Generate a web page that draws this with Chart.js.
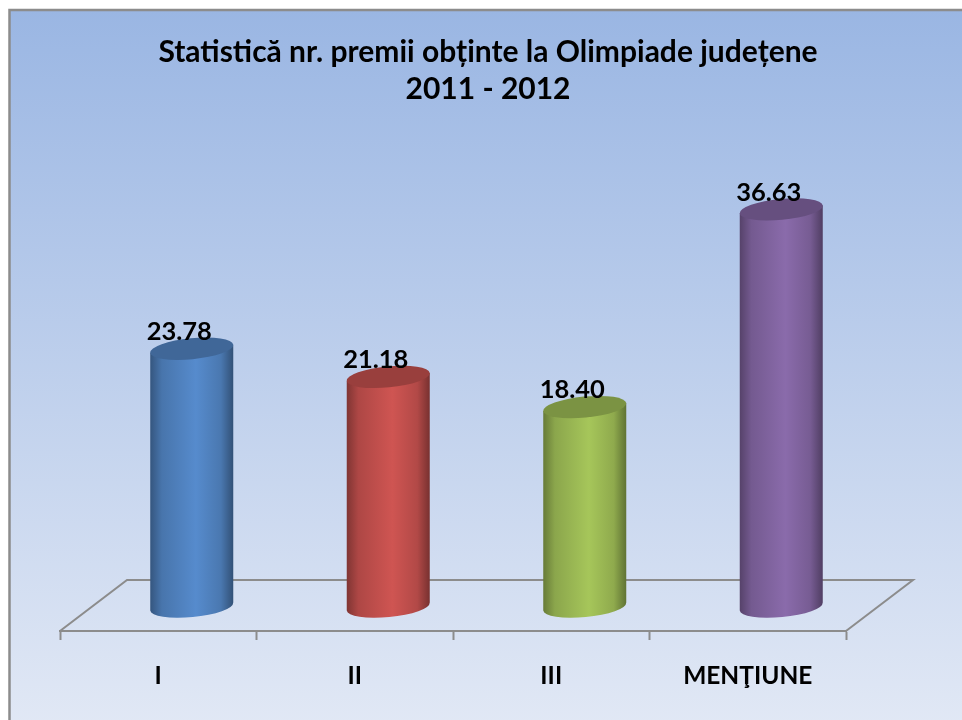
<!DOCTYPE html>
<html>
<head>
<meta charset="utf-8">
<title>Statistică premii</title>
<script src="https://cdn.jsdelivr.net/npm/chart.js@4"></script>
<style>
    html, body { margin: 0; padding: 0; background: #fff; overflow: hidden; }
    #wrap { position: absolute; left: 0; top: 0; width: 976px; height: 740px; }
</style>
</head>
<body>
<div id="wrap"><canvas id="premii" width="976" height="740"></canvas></div>
<script>
var titleLines = ["Statistică nr. premii obținte la Olimpiade județene", "2011 - 2012"];
var categories = ["I", "II", "III", "MENŢIUNE"];
var premii = [23.78, 21.18, 18.40, 36.63];
var barColors = ["#568BCD", "#CF5552", "#A6C65A", "#8A6BAB"];

var depthX = 67, depthY = 51;
var lineGray = "#8C8C8C";

function shade(hex, f) {
    var n = parseInt(hex.slice(1), 16);
    return "rgb(" + Math.round((n >> 16) * f) + "," + Math.round(((n >> 8) & 255) * f) + "," + Math.round((n & 255) * f) + ")";
}

// axa goala, tine doar locul pe margini (titlul ramane centrat pe tot canvas-ul)
function spacerAxis(position, width) {
    return {
        position: position,
        min: -2.25,
        max: 43.95,
        afterFit: function (scale) { scale.width = width; },
        border: { display: false },
        grid: { display: false },
        ticks: { display: false }
    };
}

// fundal + chenar
var panelPlugin = {
    id: "panel",
    beforeDraw: function (chart) {
        var ctx = chart.ctx;
        var grad = ctx.createLinearGradient(0, 9, 0, 725);
        grad.addColorStop(0, "#9AB6E3");
        grad.addColorStop(1, "#E1E8F5");
        ctx.save();
        ctx.fillStyle = grad;
        ctx.fillRect(9, 9, chart.width, chart.height);
        ctx.strokeStyle = lineGray;
        ctx.lineWidth = 2.5;
        ctx.strokeRect(9.5, 10, chart.width, chart.height);
        ctx.restore();
    },
    // podeaua 3D in spatele coloanelor
    beforeDatasetsDraw: function (chart) {
        var ctx = chart.ctx, a = chart.chartArea;
        ctx.save();
        ctx.strokeStyle = lineGray;
        ctx.lineWidth = 2;
        ctx.beginPath();
        ctx.moveTo(a.left, a.bottom);
        ctx.lineTo(a.left + depthX, a.bottom - depthY);
        ctx.lineTo(a.right + depthX, a.bottom - depthY);
        ctx.lineTo(a.right, a.bottom);
        ctx.stroke();
        ctx.restore();
    }
};

// coloanele sunt desenate ca cilindri, din elementele Chart.js
var cylinderPlugin = {
    id: "cylinder",
    beforeDatasetDraw: function (chart, args) {
        var ctx = chart.ctx;
        var rot = -0.096, ry = 10.5;
        args.meta.data.forEach(function (bar, i) {
            var cx = bar.x + depthX / 2;
            var rx = bar.width / 2 / Math.cos(rot);
            var top = bar.y, bottom = bar.base;
            var dy = rx * Math.sin(rot);
            var dx = bar.width / 2;
            var color = barColors[i];

            var grad = ctx.createLinearGradient(cx - dx, 0, cx + dx, 0);
            grad.addColorStop(0, shade(color, 0.62));
            grad.addColorStop(0.14, shade(color, 0.84));
            grad.addColorStop(0.55, shade(color, 1));
            grad.addColorStop(0.85, shade(color, 0.86));
            grad.addColorStop(1, shade(color, 0.58));

            ctx.save();
            ctx.fillStyle = grad;
            ctx.beginPath();
            ctx.moveTo(cx - dx, top - dy);
            ctx.lineTo(cx - dx, bottom - dy);
            ctx.ellipse(cx, bottom, rx, ry, rot, Math.PI, 0, true);
            ctx.lineTo(cx + dx, top + dy);
            ctx.closePath();
            ctx.fill();

            ctx.fillStyle = shade(color, 0.74);
            ctx.beginPath();
            ctx.ellipse(cx, top, rx, ry, rot, 0, Math.PI * 2);
            ctx.fill();
            ctx.restore();
        });
        return false;
    },
    afterDatasetsDraw: function (chart) {
        var ctx = chart.ctx;
        ctx.save();
        ctx.fillStyle = "#000";
        ctx.font = "bold 25.5px Lato";
        ctx.textAlign = "center";
        ctx.textBaseline = "middle";
        chart.getDatasetMeta(0).data.forEach(function (bar, i) {
            ctx.fillText(premii[i].toFixed(2), bar.x + 21, bar.y - 17);
        });
        ctx.restore();
    }
};

new Chart(document.getElementById("premii"), {
    type: "bar",
    data: {
        labels: categories,
        datasets: [{
            data: premii,
            backgroundColor: barColors,
            categoryPercentage: 1,
            barPercentage: 0.4224
        }]
    },
    options: {
        responsive: false,
        animation: false,
        layout: { padding: { left: 0, right: 0, top: 0, bottom: 19 } },
        plugins: {
            legend: { display: false },
            tooltip: { enabled: false },
            title: {
                display: true,
                text: titleLines,
                color: "#000",
                font: { family: "Lato", weight: "bold", size: 30, lineHeight: 37 / 30 },
                padding: { top: 33.5, bottom: 22.5 }
            }
        },
        scales: {
            x: {
                afterFit: function (scale) { scale.height = 90; },
                border: { color: lineGray, width: 2 },
                grid: { drawOnChartArea: false, tickColor: lineGray, tickLength: 9, tickWidth: 2 },
                ticks: {
                    color: "#000",
                    padding: 21,
                    maxRotation: 0,
                    font: { family: "Lato", weight: "bold", size: 24.5 }
                }
            },
            y: spacerAxis("left", 60),
            yMargin: spacerAxis("right", 130)
        }
    },
    plugins: [panelPlugin, cylinderPlugin]
});
</script>
</body>
</html>
